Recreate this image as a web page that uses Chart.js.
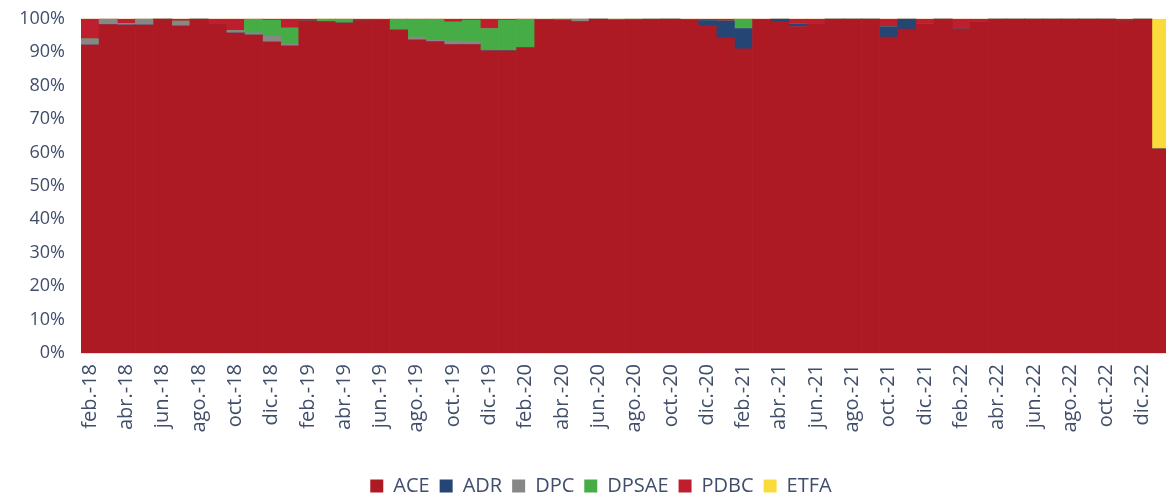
<!DOCTYPE html>
<html>
<head>
<meta charset="utf-8">
<script src="https://cdn.jsdelivr.net/npm/chart.js@4/dist/chart.umd.min.js"></script>
<style>
  html, body { margin: 0; padding: 0; background: #fff; overflow: hidden; }
  #wrap { position: absolute; left: 0; top: 0; width: 1202px; height: 498px; }
</style>
</head>
<body>
<div id="wrap"><canvas id="chart"></canvas></div>
<script>
// months feb-18 .. ene-23 (last bar is cut off at the right edge)
const categories = [
  "feb.-18","mar.-18","abr.-18","may.-18","jun.-18","jul.-18","ago.-18","sep.-18","oct.-18","nov.-18","dic.-18",
  "ene.-19","feb.-19","mar.-19","abr.-19","may.-19","jun.-19","jul.-19","ago.-19","sep.-19","oct.-19","nov.-19","dic.-19",
  "ene.-20","feb.-20","mar.-20","abr.-20","may.-20","jun.-20","jul.-20","ago.-20","sep.-20","oct.-20","nov.-20","dic.-20",
  "ene.-21","feb.-21","mar.-21","abr.-21","may.-21","jun.-21","jul.-21","ago.-21","sep.-21","oct.-21","nov.-21","dic.-21",
  "ene.-22","feb.-22","mar.-22","abr.-22","may.-22","jun.-22","jul.-22","ago.-22","sep.-22","oct.-22","nov.-22","dic.-22",
  "ene.-23"
];

const ace = [
  92.1, 98.3, 98.1, 98.1, 100, 97.8, 100, 98.5, 95.7, 95.1, 93.0,
  91.8, 99.3, 99.1, 98.7, 99.5, 99.7, 96.6, 93.6, 93.1, 92.3, 92.3, 90.4,
  90.4, 91.3, 99.7, 99.6, 99.2, 100, 99.6, 99.7, 99.8, 100, 99.7, 97.9,
  94.3, 91.0, 99.8, 99.1, 97.7, 98.5, 100, 100, 100, 94.5, 96.9, 98.4,
  100, 97.0, 99.1, 100, 100, 100, 100, 100, 100, 100, 99.5, 100,
  61.0
];
const adr = [
  0, 0, 0, 0, 0, 0, 0, 0, 0, 0, 0,
  0, 0, 0, 0, 0, 0, 0, 0, 0, 0, 0, 0,
  0, 0, 0, 0, 0, 0, 0, 0, 0.2, 0, 0, 1.6,
  5.0, 6.1, 0, 0.9, 0.7, 0, 0, 0, 0, 3.1, 3.1, 0,
  0, 0, 0, 0, 0, 0, 0, 0, 0, 0, 0, 0,
  0
];
const dpc = [
  1.9, 1.7, 0.5, 1.9, 0, 1.5, 0, 0, 0.8, 0.7, 1.8,
  0.7, 0, 0, 0, 0, 0, 0, 0.9, 0.5, 1.0, 0.8, 0.2,
  0, 0, 0, 0.4, 0.8, 0, 0, 0.3, 0, 0, 0, 0,
  0, 0, 0, 0, 0, 0, 0, 0, 0, 0, 0, 0,
  0, 0, 0, 0, 0, 0, 0, 0, 0, 0, 0, 0,
  0
];
const dpsae = [
  0, 0, 0, 0, 0, 0, 0, 0, 0, 4.2, 4.8,
  4.8, 0, 0.9, 1.3, 0, 0, 3.4, 5.5, 6.4, 5.8, 6.5, 6.5,
  9.2, 8.7, 0, 0, 0, 0, 0.4, 0, 0, 0, 0, 0,
  0, 2.9, 0, 0, 0, 0, 0, 0, 0, 0, 0, 0,
  0, 0, 0, 0, 0, 0, 0, 0, 0, 0, 0, 0,
  0
];
const pdbc = [
  6.0, 0, 1.4, 0, 0, 0.7, 0, 1.5, 3.5, 0, 0.4,
  2.7, 0.7, 0, 0, 0.5, 0.3, 0, 0, 0, 0.9, 0.4, 2.9,
  0.4, 0, 0.3, 0, 0, 0, 0, 0, 0, 0, 0.3, 0.5,
  0.7, 0, 0.2, 0, 1.6, 1.5, 0, 0, 0, 2.4, 0, 1.6,
  0, 3.0, 0.9, 0, 0, 0, 0, 0, 0, 0, 0.5, 0,
  0
];
const etfa = [
  0, 0, 0, 0, 0, 0, 0, 0, 0, 0, 0,
  0, 0, 0, 0, 0, 0, 0, 0, 0, 0, 0, 0,
  0, 0, 0, 0, 0, 0, 0, 0, 0, 0, 0, 0,
  0, 0, 0, 0, 0, 0, 0, 0, 0, 0, 0, 0,
  0, 0, 0, 0, 0, 0, 0, 0, 0, 0, 0, 0,
  39.0
];

const yTicks = [0, 10, 20, 30, 40, 50, 60, 70, 80, 90, 100];

const textColor = "#404E6B";
const fontFamily = "'Open Sans', 'Noto Sans', sans-serif";

function series(label, data, color) {
  return {
    label: label,
    data: data,
    backgroundColor: color,
    borderWidth: 0,
    barPercentage: 1.0,
    categoryPercentage: 1.0
  };
}

// nudge the legend: the original chart was wider than the visible crop
const legendShift = {
  id: "legendShift",
  afterLayout(chart) {
    const lg = chart.legend;
    lg.left += 16; lg.right += 16;
    lg.top += 8; lg.bottom += 8;
  }
};

new Chart(document.getElementById("chart"), {
  type: "bar",
  data: {
    labels: categories,
    datasets: [
      series("ACE", ace, "#AD1A24"),
      series("ADR", adr, "#254574"),
      series("DPC", dpc, "#878787"),
      series("DPSAE", dpsae, "#46AC46"),
      series("PDBC", pdbc, "#BE1E2D"),
      series("ETFA", etfa, "#F9DC3B")
    ]
  },
  plugins: [legendShift],
  options: {
    responsive: true,
    maintainAspectRatio: false,
    animation: false,
    layout: { padding: { top: 8, right: 32, left: 0, bottom: 0 } },
    plugins: {
      tooltip: { enabled: false },
      legend: {
        position: "bottom",
        labels: {
          boxWidth: 13,
          boxHeight: 13,
          padding: 10,
          color: textColor,
          font: { family: fontFamily, size: 20 }
        }
      }
    },
    scales: {
      x: {
        stacked: true,
        grid: { display: false },
        border: { display: true, color: "#D9DCE6", width: 1 },
        afterFit: s => { s.height = 105; },
        ticks: {
          autoSkip: false,
          minRotation: 90,
          maxRotation: 90,
          color: textColor,
          font: { family: fontFamily, size: 20 },
          callback: function (v, i) { return i % 2 === 0 ? categories[i] : ""; }
        }
      },
      y: {
        stacked: true,
        min: 0,
        max: 100,
        grid: { display: false },
        border: { display: false },
        afterFit: s => { s.width = 81; },
        afterBuildTicks: s => { s.ticks = yTicks.map(v => ({ value: v })); },
        ticks: {
          color: textColor,
          padding: 8,
          font: { family: fontFamily, size: 18 },
          callback: v => v + "%"
        }
      }
    }
  }
});
</script>
</body>
</html>
